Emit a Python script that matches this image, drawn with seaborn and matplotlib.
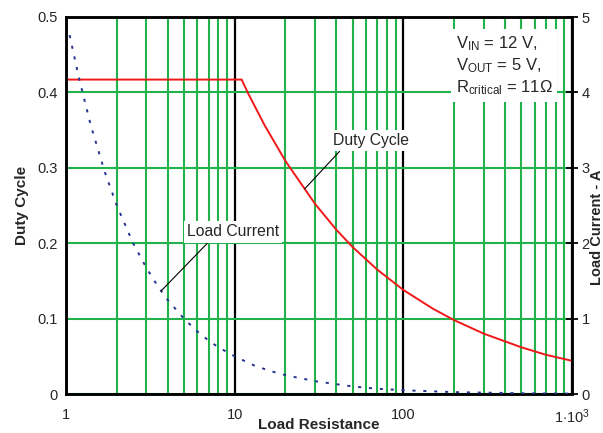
import numpy as np
import pandas as pd
import matplotlib
matplotlib.use("Agg")
import matplotlib.pyplot as plt
from matplotlib.ticker import FixedLocator, NullFormatter
import seaborn as sns

# Load resistance (ohm) and buck converter duty cycle
res_duty = [1, 11, 12, 15, 20, 30, 40, 50, 70, 100, 150, 200, 300, 500, 700, 1000]
duty = [0.417, 0.417, 0.399, 0.357, 0.309, 0.252, 0.218, 0.195, 0.165, 0.138,
        0.113, 0.098, 0.080, 0.062, 0.052, 0.044]

# Load resistance (ohm) and load current (A)
res_cur = [1.05, 1.2, 1.4, 1.7, 2, 2.5, 3, 3.5, 4, 5, 6, 7, 8, 10, 13, 16, 20,
           30, 50, 70, 100, 200, 500, 1000]
current = [4.76, 4.17, 3.57, 2.94, 2.5, 2.0, 1.67, 1.43, 1.25, 1.0, 0.83, 0.71,
           0.62, 0.5, 0.38, 0.31, 0.25, 0.17, 0.10, 0.07, 0.05, 0.025, 0.01, 0.005]

x_ticks = [1, 10, 100, 1000]
x_labels = ["1", "10", "100", r"1$\cdot$10$^{3}$"]
duty_ticks = [0, 0.1, 0.2, 0.3, 0.4, 0.5]
duty_labels = ["0", "0.1", "0.2", "0.3", "0.4", "0.5"]
cur_ticks = [0, 1, 2, 3, 4, 5]
cur_labels = ["0", "1", "2", "3", "4", "5"]

sns.set_style("white")
plt.rcParams["font.family"] = ["Liberation Sans", "DejaVu Sans"]
plt.rcParams["mathtext.fontset"] = "custom"
plt.rcParams["mathtext.rm"] = "Liberation Sans"
plt.rcParams["mathtext.it"] = "Liberation Sans:italic"
plt.rcParams["mathtext.bf"] = "Liberation Sans:bold"

GREEN = "#22b24c"
RED = "#f01818"
BLUE = "#26348f"

fig = plt.figure(figsize=(6.03, 4.33), dpi=100)
ax = fig.add_axes([66 / 603, 39 / 433, 506 / 603, 377 / 433])
ax2 = ax.twinx()

df_d = pd.DataFrame({"R": res_duty, "D": duty})
df_i = pd.DataFrame({"R": res_cur, "I": current})

sns.lineplot(data=df_d, x="R", y="D", ax=ax, color=RED, lw=1.4,
             estimator=None, sort=False, zorder=3)
sns.lineplot(data=df_i, x="R", y="I", ax=ax2, color=BLUE, lw=1.4,
             linestyle=(0, (1.6, 4.0)), estimator=None, sort=False, zorder=3)

for a in (ax, ax2):
    a.set_xscale("log")
    a.set_xlim(1, 1000)
ax.set_ylim(0, 0.5)
ax2.set_ylim(0, 5)

# Ticks and grid
ax.xaxis.set_major_locator(FixedLocator(x_ticks))
ax.set_xticklabels(x_labels)
ax.get_xticklabels()[-1].set_fontsize(11.5)
minor = [m * d for d in (1, 10, 100) for m in range(2, 10)]
ax.xaxis.set_minor_locator(FixedLocator(minor))
ax.xaxis.set_minor_formatter(NullFormatter())
ax.set_yticks(duty_ticks)
ax.set_yticklabels(duty_labels)
ax2.set_yticks(cur_ticks)
ax2.set_yticklabels(cur_labels)

ax.grid(True, which="minor", axis="x", color=GREEN, lw=1.5)
ax.grid(True, which="major", axis="x", color="black", lw=1.6)
ax.grid(True, which="major", axis="y", color=GREEN, lw=1.5)
ax.set_axisbelow(True)

ax.tick_params(axis="x", which="both", length=0, pad=10, labelsize=10.5)
ax.tick_params(axis="y", length=0, pad=6, labelsize=10.5)
ax2.tick_params(axis="y", length=8, width=1.3, direction="inout", color="black",
                pad=3, labelsize=10.5)

for a in (ax, ax2):
    for s in a.spines.values():
        s.set_color("black")
        s.set_linewidth(1.8)
        s.set_visible(True)

ax.set_xlabel("Load Resistance", fontsize=11, fontweight="bold", labelpad=-6)
ax.set_ylabel("Duty Cycle", fontsize=11, fontweight="bold", labelpad=6)
ax2.set_ylabel("")
fig.text(597 / 603, 0.475, "Load Current - A", rotation=90, ha="center",
         va="center", fontsize=10.5, fontweight="bold")

# Annotations
box = dict(boxstyle="square,pad=0.2", fc="white", ec="none")
ax2.text(0.77, 0.955, "V$_{\\mathrm{IN}}$ = 12 V,\nV$_{\\mathrm{OUT}}$ = 5 V,\n"
         "R$_{\\mathrm{critical}}$ = 11$\\Omega$",
         transform=ax2.transAxes, ha="left", va="top", fontsize=12,
         linespacing=1.25, zorder=5,
         bbox=dict(boxstyle="square,pad=0.3", fc="white", ec="none"))

ax2.annotate("Duty Cycle", xy=(26, 0.272), xycoords=ax.transData,
             xytext=(64, 0.336), textcoords=ax.transData,
             ha="center", va="center", fontsize=11.3, zorder=5, bbox=box,
             arrowprops=dict(arrowstyle="-", color="black", lw=0.8,
                             relpos=(0.13, 0.0), shrinkA=0, shrinkB=0))

ax2.annotate("Load Current", xy=(3.66, 1.366), xycoords="data",
             xytext=(9.8, 2.15), textcoords="data",
             ha="center", va="center", fontsize=11.3, zorder=5, bbox=box,
             arrowprops=dict(arrowstyle="-", color="black", lw=0.8,
                             relpos=(0.26, 0.0), shrinkA=0, shrinkB=0))

fig.savefig("out.png", dpi=100, facecolor="white")
